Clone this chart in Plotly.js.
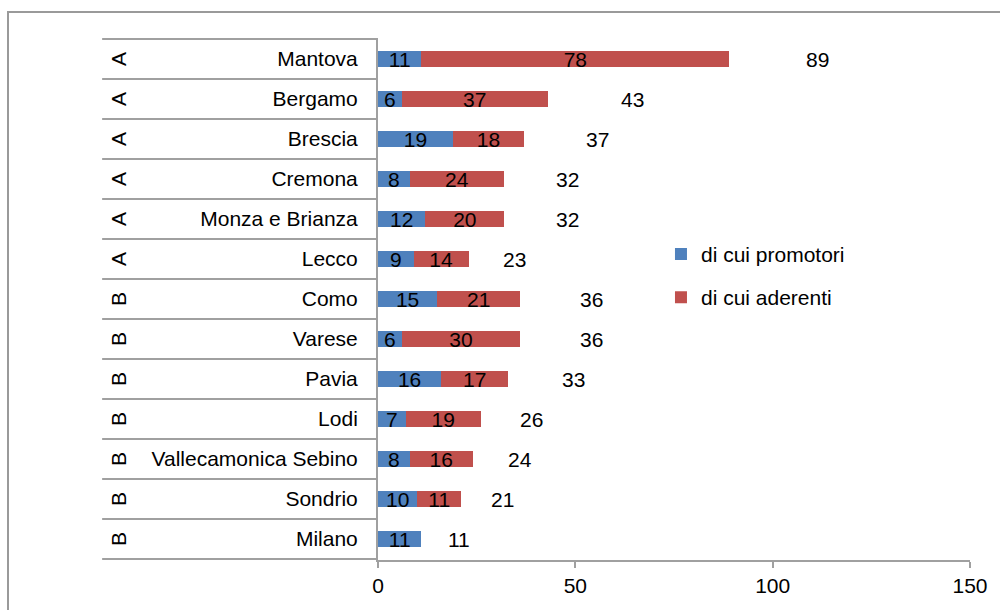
<!DOCTYPE html>
<html>
<head>
<meta charset="utf-8">
<script src="https://cdn.plot.ly/plotly-3.0.1.min.js"></script>
<style>
html,body{margin:0;padding:0;background:#fff;}
#chart{width:1000px;height:610px;}
</style>
</head>
<body>
<div id="chart"></div>
<script>
const groups = ["A","A","A","A","A","A","B","B","B","B","B","B","B"];
const provinces = ["Mantova","Bergamo","Brescia","Cremona","Monza e Brianza","Lecco","Como","Varese","Pavia","Lodi","Vallecamonica Sebino","Sondrio","Milano"];
const promotori = [11,6,19,8,12,9,15,6,16,7,8,10,11];
const aderenti = [78,37,18,24,20,14,21,30,17,19,16,11,0];
const totals = [89,43,37,32,32,23,36,36,33,26,24,21,11];
const xTicks = [0,50,100,150];

const FONT = "Liberation Sans, Arial, sans-serif";
const FS = 21;
const GRID = "#a0a0a0";

const traces = [
  {
    type: "bar", orientation: "h", name: "di cui promotori",
    y: provinces, x: promotori,
    marker: {color: "#4F81BD"},
    text: promotori.map(v => v ? String(v) : ""),
    textposition: "inside", insidetextanchor: "middle", textangle: 0,
    constraintext: "none", cliponaxis: false,
    textfont: {color: "#000", size: FS, family: FONT},
    legendgroup: "p", hoverinfo: "skip"
  },
  {
    type: "bar", orientation: "h", name: "di cui aderenti",
    y: provinces, x: aderenti,
    marker: {color: "#C0504D"},
    text: aderenti.map(v => v ? String(v) : ""),
    textposition: "inside", insidetextanchor: "middle", textangle: 0,
    constraintext: "none", cliponaxis: false,
    textfont: {color: "#000", size: FS, family: FONT},
    legendgroup: "a", hoverinfo: "skip"
  }
];

const shapes = [];
// outer frame
shapes.push({type:"rect", xref:"paper", yref:"paper", x0:-0.625, x1:1.2, y0:-0.3, y1:1.0498,
  line:{color:"#9a9a9a", width:2}, fillcolor:"rgba(0,0,0,0)", layer:"below"});
// table row dividers
for (let i = 0; i <= provinces.length; i++) {
  shapes.push({type:"line", xref:"paper", yref:"y", x0:-0.466, x1:0, y0:i-0.5, y1:i-0.5,
    line:{color:GRID, width:2}});
}

const annotations = [];
groups.forEach((g, i) => {
  annotations.push({xref:"paper", yref:"y", x:-0.439, y:provinces[i], text:g, showarrow:false,
    textangle:-90, font:{size:FS, color:"#000", family:FONT}, xanchor:"center", yanchor:"middle"});
});
totals.forEach((t, i) => {
  const off = Math.min(Math.max(t/2, 9.5), 22.3);
  annotations.push({xref:"x", yref:"y", x:t + off, y:provinces[i], text:String(t), showarrow:false,
    font:{size:FS, color:"#000", family:FONT}, xanchor:"center", yanchor:"middle"});
});

const layout = {
  width: 1000, height: 610,
  margin: {l:378, r:30, t:38, b:50},
  paper_bgcolor: "#fff", plot_bgcolor: "rgba(0,0,0,0)",
  barmode: "stack", bargap: 0.6,
  font: {family: FONT, size: FS, color: "#000"},
  showlegend: true,
  legend: {x:0.478, y:0.625, xanchor:"left", yanchor:"top", traceorder:"grouped",
    tracegroupgap: 13, font:{size:FS, family:FONT, color:"#000"}, bgcolor:"rgba(0,0,0,0)", itemwidth:30},
  xaxis: {range:[0,150], tickvals:xTicks, ticktext:xTicks.map(String), showgrid:false, zeroline:false,
    showline:true, linecolor:GRID, linewidth:2, ticks:"outside", ticklen:6, tickcolor:GRID, tickwidth:2,
    tickfont:{size:FS, family:FONT, color:"#000"}, fixedrange:true},
  yaxis: {type:"category", autorange:"reversed", showgrid:false, zeroline:false,
    showline:true, linecolor:GRID, linewidth:2, ticks:"", ticklabelstandoff:14,
    tickfont:{size:FS, family:FONT, color:"#000"}, fixedrange:true},
  shapes: shapes, annotations: annotations
};

Plotly.newPlot("chart", traces, layout, {displayModeBar:false, staticPlot:true});
</script>
</body>
</html>
